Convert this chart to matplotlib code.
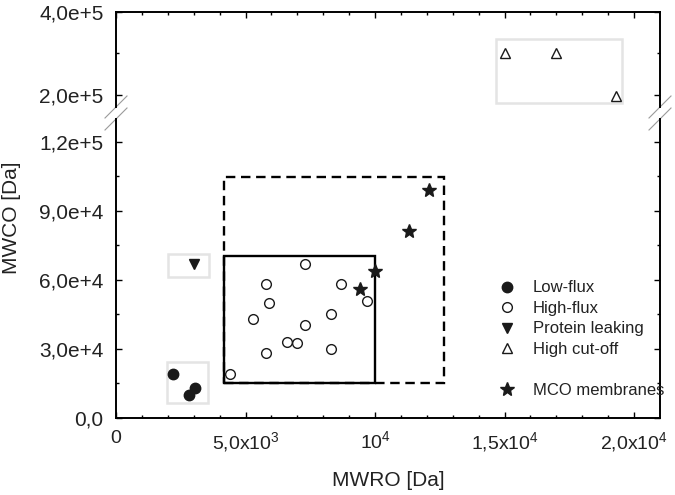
import matplotlib
matplotlib.use("Agg")
import matplotlib.pyplot as plt
from matplotlib.patches import Rectangle
from matplotlib.lines import Line2D

# ==============
# 数据
# ==============
low_flux_x = [2200, 3050, 2800]
low_flux_y = [19000, 12900, 9800]

high_flux_x = [4400, 5800, 5900, 5300, 7300, 7300, 6600, 7000, 5800, 8300, 8300, 8700, 9700]
high_flux_y = [18900, 58000, 50000, 43000, 67000, 40100, 32800, 32500, 28000, 45100, 29900, 58000, 50600]

leak_x = [3000]
leak_y = [67000]

cutoff_x = [15000, 17000, 19300]
cutoff_y = [300000, 300000, 197000]

mco_x = [12100, 11300, 10000, 9400]
mco_y = [99000, 81100, 63800, 56000]

# 区域框 (x0, y0, x1, y1)
low_flux_box = [1950, 6200, 3550, 24100]
leak_box = [2000, 61200, 3600, 71000]
cutoff_box = [14650, 179800, 19550, 333700]
solid_box = [4150, 14900, 10000, 70500]
dashed_box = [4150, 14900, 12650, 104900]

x_ticks = [0, 5000, 10000, 15000, 20000]
x_labels = ["0", "5,0x10$^3$", "10$^4$", "1,5x10$^4$", "2,0x10$^4$"]
y_low_ticks = [0, 30000, 60000, 90000, 120000]
y_low_labels = ["0,0", "3,0e+4", "6,0e+4", "9,0e+4", "1,2e+5"]
y_high_ticks = [200000, 400000]
y_high_labels = ["2,0e+5", "4,0e+5"]

legend_labels = ["Low-flux", "High-flux", "Protein leaking", "High cut-off", " ", "MCO membranes"]


def add_box(ax, box, **kw):
    x0, y0, x1, y1 = box
    ax.add_patch(Rectangle((x0, y0), x1 - x0, y1 - y0, fill=False, **kw))


def style_axis(ax):
    ax.tick_params(which="both", direction="in", top=True, right=True,
                   labelcolor="#222222", width=1)
    ax.tick_params(axis="x", labelsize=14)
    ax.tick_params(axis="y", labelsize=15)
    ax.tick_params(which="major", length=4.5, pad=9)
    ax.tick_params(which="minor", length=2.5)
    for s in ax.spines.values():
        s.set_linewidth(1.4)


def main():
    plt.rcParams["font.family"] = ["Liberation Sans", "DejaVu Sans"]
    plt.rcParams["mathtext.default"] = "regular"

    fig = plt.figure(figsize=(6.75, 4.95), dpi=100)
    W, H = 675, 495
    left, right = 116 / W, 660 / W
    ax_lo = fig.add_axes([left, 1 - 417.5 / H, right - left, (417.5 - 119) / H])
    ax_hi = fig.add_axes([left, 1 - 107 / H, right - left, (107 - 11.7) / H])

    # ==============
    # 下半部分
    # ==============
    gray = "#e4e4e4"
    add_box(ax_lo, low_flux_box, edgecolor=gray, lw=1.8, zorder=1)
    add_box(ax_lo, leak_box, edgecolor=gray, lw=1.8, zorder=1)
    add_box(ax_lo, dashed_box, edgecolor="black", lw=1.7, ls=(0, (4, 2.4)), zorder=2)
    add_box(ax_lo, solid_box, edgecolor="black", lw=1.7, zorder=2)

    ax_lo.plot(low_flux_x, low_flux_y, "o", color="#1a1a1a", ms=7.5, ls="none", zorder=3)
    ax_lo.plot(high_flux_x, high_flux_y, "o", mfc="white", mec="#1a1a1a", mew=1, ms=7, ls="none", zorder=3)
    ax_lo.plot(leak_x, leak_y, "v", color="#1a1a1a", ms=6.5, ls="none", zorder=3)
    ax_lo.plot(mco_x, mco_y, "*", color="#1a1a1a", ms=10, ls="none", zorder=4)

    ax_lo.set_xlim(0, 21000)
    ax_lo.set_ylim(0, 130000)
    ax_lo.set_xticks(x_ticks, x_labels)
    ax_lo.set_xticks(range(0, 21000, 1000), minor=True)
    ax_lo.set_yticks(y_low_ticks, y_low_labels)
    ax_lo.set_yticks(range(15000, 130000, 30000), minor=True)
    style_axis(ax_lo)
    ax_lo.tick_params(which="both", top=False)
    ax_lo.spines["top"].set_visible(False)

    # ==============
    # 上半部分
    # ==============
    add_box(ax_hi, cutoff_box, edgecolor=gray, lw=1.8, zorder=1)
    ax_hi.plot(cutoff_x, cutoff_y, "^", mfc="white", mec="#1a1a1a", mew=1, ms=7, ls="none", zorder=3)

    ax_hi.set_xlim(0, 21000)
    ax_hi.set_ylim(170000, 400000)
    ax_hi.set_xticks(x_ticks)
    ax_hi.set_xticks(range(0, 21000, 1000), minor=True)
    ax_hi.set_yticks(y_high_ticks, y_high_labels)
    ax_hi.set_yticks([300000], minor=True)
    style_axis(ax_hi)
    ax_hi.tick_params(which="both", bottom=False, labelbottom=False)
    ax_hi.spines["bottom"].set_visible(False)

    # ==============
    # 断轴标记
    # ==============
    aw = right - left
    for ax, ya, hpx in [(ax_hi, 0, 107 - 11.7), (ax_lo, 1, 417.5 - 119)]:
        dx = 11 / (aw * W)
        dy = 11 / hpx
        for xa in (0, 1):
            ax.plot([xa - dx, xa + dx], [ya - dy, ya + dy], transform=ax.transAxes,
                    color="#9a9a9a", lw=0.8, clip_on=False)

    # ==============
    # 图例
    # ==============
    handles = [
        Line2D([], [], marker="o", color="#1a1a1a", ms=7.5, ls="none"),
        Line2D([], [], marker="o", mfc="white", mec="#1a1a1a", mew=1, ms=7, ls="none"),
        Line2D([], [], marker="v", color="#1a1a1a", ms=6.5, ls="none"),
        Line2D([], [], marker="^", mfc="white", mec="#1a1a1a", mew=1, ms=7, ls="none"),
        Line2D([], [], ls="none"),
        Line2D([], [], marker="*", color="#1a1a1a", ms=10, ls="none"),
    ]
    leg = fig.legend(handles, legend_labels, loc="upper left",
                     bbox_to_anchor=(498.7 / W, 1 - 280.5 / H), frameon=False,
                     fontsize=12, handlelength=1.0, handletextpad=1.05,
                     labelspacing=0.33, borderpad=0, borderaxespad=0)
    for t in leg.get_texts():
        t.set_color("#222222")

    # ==============
    # 轴标签
    # ==============
    fig.text(388 / W, 1 - 480 / H, "MWRO [Da]", ha="center", va="center",
             fontsize=15, color="#222222")
    fig.text(12 / W, 1 - 218 / H, "MWCO [Da]", ha="center", va="center",
             rotation=90, fontsize=15, color="#222222")

    fig.savefig("out.png", dpi=100)
    plt.close()


if __name__ == "__main__":
    main()
